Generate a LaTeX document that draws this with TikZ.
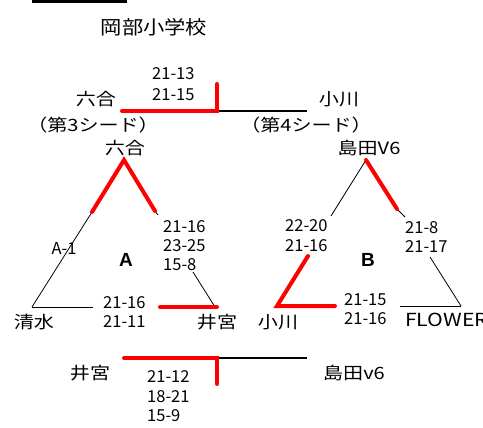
\documentclass[tikz,border=0pt]{standalone}
\usepackage{fontspec}
\setmainfont{Noto Sans CJK JP}
\newfontfamily\cjk[FakeStretch=1.18]{Noto Sans CJK JP}
\newfontfamily\cjkt[FakeStretch=1.12]{Noto Sans CJK JP}
\newfontfamily\poolfont{Liberation Sans}
\begin{document}
\begin{tikzpicture}[x=1pt,y=-1pt,
  lbl/.style={inner sep=0pt, font=\cjk\fontsize{17}{20}\selectfont},
  ttl/.style={inner sep=0pt, font=\cjkt\fontsize{19}{22}\selectfont},
  score/.style={inner sep=0pt, anchor=west, font=\fontsize{16.5}{19}\selectfont},
  thinline/.style={line width=0.8pt},
  winline/.style={line width=4pt, red, line cap=round, line join=miter},
  finline/.style={line width=2pt},
  pool/.style={inner sep=0pt, font=\poolfont\bfseries\fontsize{19}{22}\selectfont}]
\useasboundingbox (0,0) rectangle (483,428);

% top bar
\fill (32,0) rectangle (127,3.5);

% title
\node[ttl] (title) at (154,27) {岡部小学校};

% ---------- final (top) ----------
\coordinate (f1l) at (122,111);
\coordinate (f1m) at (217,111);
\coordinate (f1t) at (217,84);
\coordinate (f1r) at (307,111);
\draw[finline] (f1m) -- (f1r);
\draw[winline] (f1l) -- (f1m) -- (f1t);
\node[score] (s1a) at (152,74) {21-13};
\node[score] (s1b) at (152,95) {21-15};
\node[lbl] (rokugo1) at (96,99) {六合};
\node[lbl] (ogawa1) at (339,99) {小川};
\node[lbl] (seed3) at (93,125) {（第3シード）};
\node[lbl] (seed4) at (306,125) {（第4シード）};

% ---------- pool A ----------
\node[lbl] (rokugo2) at (125,148) {六合};
\coordinate (a0) at (124,160);
\coordinate (al) at (32,307);
\coordinate (ar) at (215,307);
\coordinate (al1) at (92,212);
\coordinate (ar1) at (155,211);
\coordinate (ar2) at (158,215);
\coordinate (ar3) at (193,272);
\coordinate (ab1) at (93,307);
\coordinate (ab2) at (160,307);
\coordinate (ab3) at (217,307);
\draw[thinline] (al1) -- (al);
\draw[thinline] (ar1) -- (ar2);
\draw[thinline] (ar3) -- (ar);
\draw[thinline] (al) -- (ab1);
\draw[winline] (al1) -- (a0) -- (ar1);
\draw[winline] (ab2) -- (ab3);
\node[lbl, font=\fontsize{16.5}{19}\selectfont] (a1) at (64,248) {A-1};
\node[pool] (poolA) at (126,260) {A};
\node[score] (sa1) at (163,227) {21-16};
\node[score] (sa2) at (163,246) {23-25};
\node[score] (sa3) at (163,265) {15-8};
\node[score] (sa4) at (103,303) {21-16};
\node[score] (sa5) at (103,322) {21-11};
\node[lbl] (shimizu) at (34,322) {清水};
\node[lbl] (imiya1) at (217,322) {井宮};

% ---------- pool B ----------
\node[lbl] (shimada1) at (369,148) {島田V6};
\coordinate (b0) at (366,160);
\coordinate (bl1) at (331,216);
\coordinate (bl2) at (308,256);
\coordinate (bl) at (277,306);
\coordinate (bb1) at (335,306);
\coordinate (br1) at (397,209);
\coordinate (br2) at (405,217);
\coordinate (br3) at (430,257);
\coordinate (br) at (461,306);
\coordinate (bb2) at (400,306);
\draw[thinline] (b0) -- (bl1);
\draw[thinline] (br1) -- (br2);
\draw[thinline] (br3) -- (br);
\draw[thinline] (bb2) -- (br);
\draw[winline] (bl2) -- (bl) -- (bb1);
\draw[winline] (b0) -- (br1);
\node[pool] (poolB) at (368,260) {B};
\node[score] (sb1) at (285,226) {22-20};
\node[score] (sb2) at (285,246) {21-16};
\node[score] (sb3) at (405,228) {21-8};
\node[score] (sb4) at (405,247) {21-17};
\node[score] (sb5) at (344,300) {21-15};
\node[score] (sb6) at (344,319) {21-16};
\node[lbl] (ogawa2) at (278,322) {小川};
\node[lbl, anchor=west, font=\cjk\fontsize{18}{20}\selectfont] (flower) at (405,320) {FLOWER};

% ---------- final (bottom) ----------
\coordinate (f2l) at (124,358);
\coordinate (f2m) at (217,358);
\coordinate (f2b) at (217,384);
\coordinate (f2r) at (307,358);
\draw[finline] (f2m) -- (f2r);
\draw[winline] (f2l) -- (f2m) -- (f2b);
\node[lbl] (imiya2) at (90,373) {井宮};
\node[lbl] (shimada2) at (354,373) {島田v6};
\node[score] (s2a) at (147,377) {21-12};
\node[score] (s2b) at (147,397) {18-21};
\node[score] (s2c) at (147,416) {15-9};
\end{tikzpicture}
\end{document}
